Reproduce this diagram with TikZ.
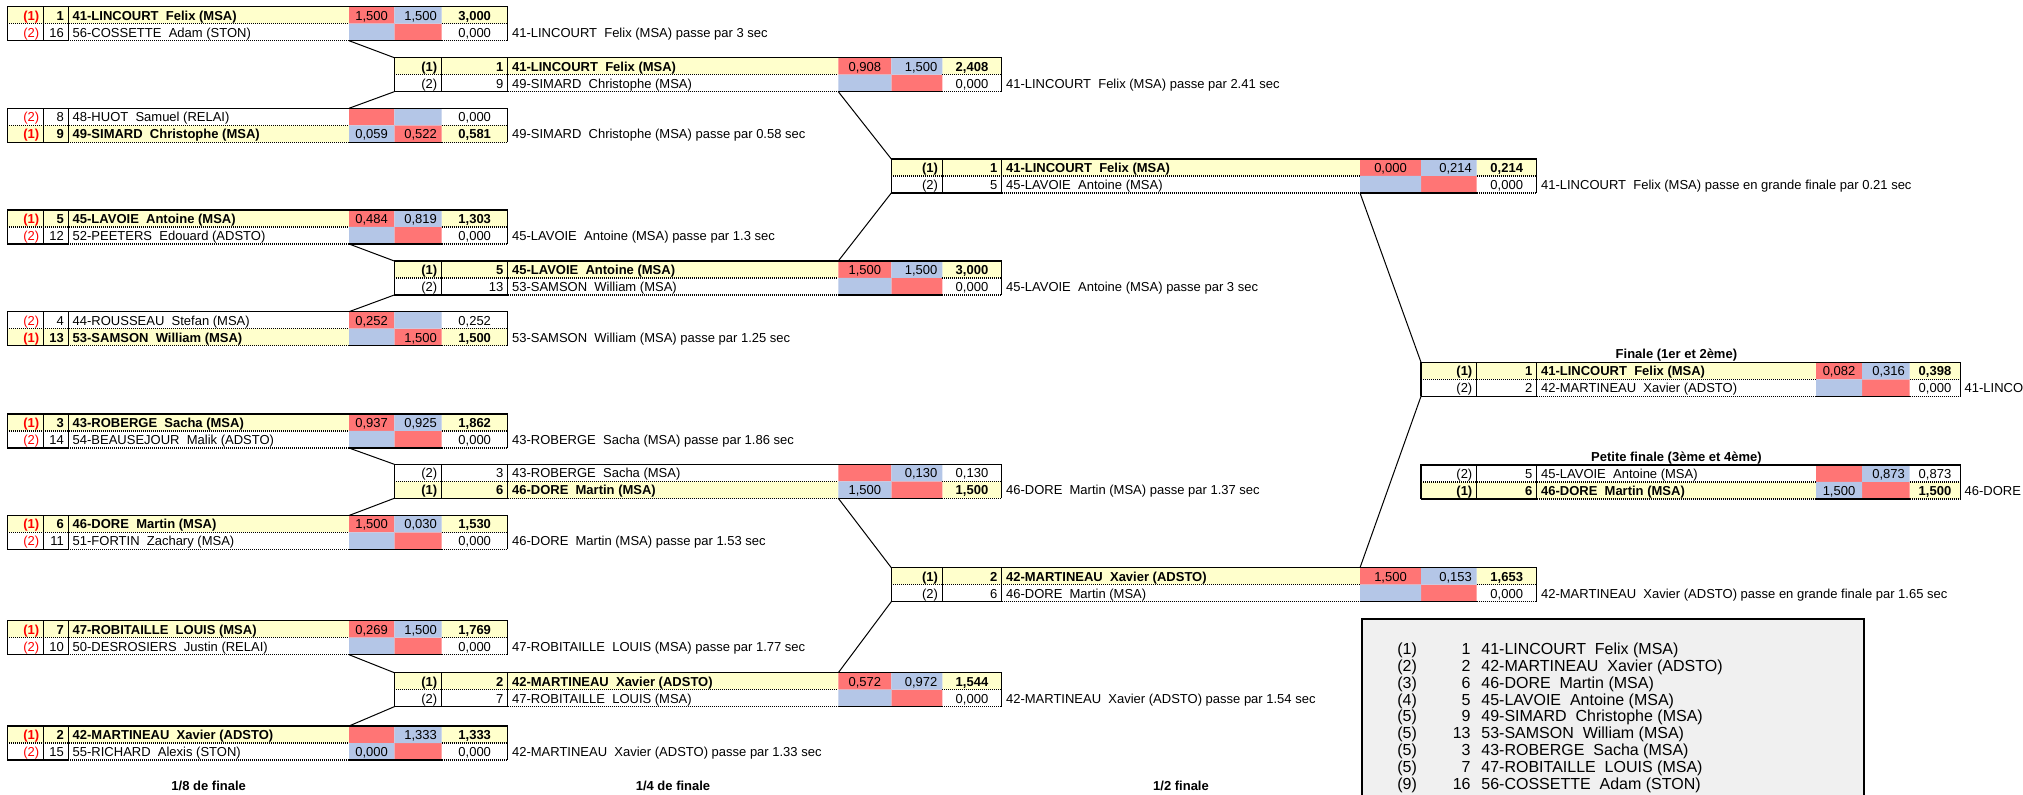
\documentclass[tikz,border=0pt]{standalone}
\usepackage{fontspec}
\setmainfont{Liberation Sans}
\usepackage{tikz}
\definecolor{cell_yellow}{RGB}{255, 255, 204}
\definecolor{cell_red}{RGB}{255, 117, 117}
\definecolor{cell_blue}{RGB}{180, 198, 231}
\definecolor{rank_gray}{RGB}{240, 240, 240}
\newcommand{\tabfont}{\fontsize{6.5}{7.8}\selectfont}
\tikzset{
  every node/.style={inner sep=0pt, font=\tabfont},
  winrow/.style={fill=cell_yellow},
  loserow/.style={fill=white},
  wintext/.style={font=\tabfont\bfseries},
  losetext/.style={font=\tabfont},
  rule/.style={line width=0.55pt},
  dots/.style={line width=0.6pt, dash pattern=on 0.5pt off 0.5pt},
  link/.style={line width=0.5pt},
  title/.style={font=\tabfont\bfseries, anchor=base},
  rank/.style={font=\fontsize{8}{9.6}\selectfont},
}
% one duel: two rows, columns \xa..\xg
\newcommand{\duel}{%
  \fill[\wA row] (\xa,\y) rectangle (\xd,\y+17) (\xf,\y) rectangle (\xg,\y+17);
  \fill[\wB row] (\xa,\y+17) rectangle (\xd,\y+34) (\xf,\y+17) rectangle (\xg,\y+34);
  \fill[cell_red] (\xd,\y) rectangle (\xe,\y+17) (\xe,\y+17) rectangle (\xf,\y+34);
  \fill[cell_blue] (\xe,\y) rectangle (\xf,\y+17) (\xd,\y+17) rectangle (\xe,\y+34);
  \draw[rule] (\xa,\y+34) -- (\xa,\y) -- (\xg,\y) -- (\xg,\y+34)
    (\xb,\y) -- (\xb,\y+34) (\xc,\y) -- (\xc,\y+34)
    (\xa,\y+34) -- (\xc,\y+34) (\xd,\y+34) -- (\xf,\y+34);
  \draw[dots] (\xa,\y+17) -- (\xd,\y+17) (\xf,\y+17) -- (\xg,\y+17)
    (\xc,\y+34) -- (\xd,\y+34) (\xf,\y+34) -- (\xg,\y+34);
  \coordinate (\n-nw) at (\xa,\y);
  \coordinate (\n-sw) at (\xa,\y+34);
  \coordinate (\n-up) at (\xd,\y);
  \coordinate (\n-dn) at (\xd,\y+34);
  \node[\wA text, text=\placecol, anchor=base east] (\n-pA) at (\xb-4,\y+13.5) {\pA};
  \node[\wA text, anchor=base east] (\n-kA) at (\xc-4,\y+13.5) {\kA};
  \node[\wA text, anchor=base west] (\n-mA) at (\xc+4,\y+13.5) {\mA};
  \node[anchor=base] (\n-uA) at ({(\xd+\xe)/2},\y+13.5) {\uA};
  \node[anchor=base east] (\n-vA) at (\xf-4.5,\y+13.5) {\vA};
  \node[\wA text, anchor=base] (\n-tA) at ({(\xf+\xg)/2},\y+13.5) {\tA};
  \node[\wB text, text=\placecol, anchor=base east] (\n-pB) at (\xb-4,\y+30.5) {\pB};
  \node[\wB text, anchor=base east] (\n-kB) at (\xc-4,\y+30.5) {\kB};
  \node[\wB text, anchor=base west] (\n-mB) at (\xc+4,\y+30.5) {\mB};
  \node[anchor=base] (\n-uB) at ({(\xd+\xe)/2},\y+30.5) {\uB};
  \node[anchor=base east] (\n-vB) at (\xf-4.5,\y+30.5) {\vB};
  \node[\wB text, anchor=base] (\n-tB) at ({(\xf+\xg)/2},\y+30.5) {\tB};
  \node[anchor=base west] (\n-txt) at (\xg+4,\y+30.5) {\txt};
}

\begin{document}
\begin{tikzpicture}[x=0.5pt, y=-0.5pt]
\useasboundingbox (0,0) rectangle (2023,795);

% 1/8 de finale
\def\xa{7.3}\def\xb{43.7}\def\xc{68.3}\def\xd{349}\def\xe{394.3}\def\xf{441.7}\def\xg{507.7}
\def\placecol{red}
\foreach \n/\y/\wA/\pA/\kA/\mA/\uA/\vA/\tA/\wB/\pB/\kB/\mB/\uB/\vB/\tB/\txt in {
  h1/6.7/win/{(1)}/1/41-LINCOURT~~Felix (MSA)/{1,500}/{1,500}/{3,000}/lose/{(2)}/16/56-COSSETTE~~Adam (STON)///{0,000}/41-LINCOURT~~Felix (MSA) passe par 3 sec,
  h2/108.3/lose/{(2)}/8/48-HUOT~~Samuel (RELAI)///{0,000}/win/{(1)}/9/49-SIMARD~~Christophe (MSA)/{0,059}/{0,522}/{0,581}/49-SIMARD~~Christophe (MSA) passe par 0.58 sec,
  h3/210/win/{(1)}/5/45-LAVOIE~~Antoine (MSA)/{0,484}/{0,819}/{1,303}/lose/{(2)}/12/52-PEETERS~~Edouard (ADSTO)///{0,000}/45-LAVOIE~~Antoine (MSA) passe par 1.3 sec,
  h4/311.7/lose/{(2)}/4/44-ROUSSEAU~~Stefan (MSA)/{0,252}//{0,252}/win/{(1)}/13/53-SAMSON~~William (MSA)//{1,500}/{1,500}/53-SAMSON~~William (MSA) passe par 1.25 sec,
  h5/414/win/{(1)}/3/43-ROBERGE~~Sacha (MSA)/{0,937}/{0,925}/{1,862}/lose/{(2)}/14/54-BEAUSEJOUR~~Malik (ADSTO)///{0,000}/43-ROBERGE~~Sacha (MSA) passe par 1.86 sec,
  h6/515.5/win/{(1)}/6/46-DORE~~Martin (MSA)/{1,500}/{0,030}/{1,530}/lose/{(2)}/11/51-FORTIN~~Zachary (MSA)///{0,000}/46-DORE~~Martin (MSA) passe par 1.53 sec,
  h7/620.7/win/{(1)}/7/47-ROBITAILLE~~LOUIS (MSA)/{0,269}/{1,500}/{1,769}/lose/{(2)}/10/50-DESROSIERS~~Justin (RELAI)///{0,000}/47-ROBITAILLE~~LOUIS (MSA) passe par 1.77 sec,
  h8/726/win/{(1)}/2/42-MARTINEAU~~Xavier (ADSTO)//{1,333}/{1,333}/lose/{(2)}/15/55-RICHARD~~Alexis (STON)/{0,000}//{0,000}/42-MARTINEAU~~Xavier (ADSTO) passe par 1.33 sec}
  {\duel}

% 1/4 de finale
\def\xa{394.3}\def\xb{441.7}\def\xc{507.7}\def\xd{838.3}\def\xe{891.3}\def\xf{942.3}\def\xg{1001.7}
\def\placecol{black}
\foreach \n/\y/\wA/\pA/\kA/\mA/\uA/\vA/\tA/\wB/\pB/\kB/\mB/\uB/\vB/\tB/\txt in {
  q1/57.7/win/{(1)}/1/41-LINCOURT~~Felix (MSA)/{0,908}/{1,500}/{2,408}/lose/{(2)}/9/49-SIMARD~~Christophe (MSA)///{0,000}/41-LINCOURT~~Felix (MSA) passe par 2.41 sec,
  q2/261/win/{(1)}/5/45-LAVOIE~~Antoine (MSA)/{1,500}/{1,500}/{3,000}/lose/{(2)}/13/53-SAMSON~~William (MSA)///{0,000}/45-LAVOIE~~Antoine (MSA) passe par 3 sec,
  q3/464.3/lose/{(2)}/3/43-ROBERGE~~Sacha (MSA)//{0,130}/{0,130}/win/{(1)}/6/46-DORE~~Martin (MSA)/{1,500}//{1,500}/46-DORE~~Martin (MSA) passe par 1.37 sec,
  q4/672.7/win/{(1)}/2/42-MARTINEAU~~Xavier (ADSTO)/{0,572}/{0,972}/{1,544}/lose/{(2)}/7/47-ROBITAILLE~~LOUIS (MSA)///{0,000}/42-MARTINEAU~~Xavier (ADSTO) passe par 1.54 sec}
  {\duel}

% 1/2 finale
\def\xa{891.3}\def\xb{942.3}\def\xc{1001.7}\def\xd{1360}\def\xe{1421}\def\xf{1476.7}\def\xg{1536.7}
\foreach \n/\y/\wA/\pA/\kA/\mA/\uA/\vA/\tA/\wB/\pB/\kB/\mB/\uB/\vB/\tB/\txt in {
  s1/159/win/{(1)}/1/41-LINCOURT~~Felix (MSA)/{0,000}/{0,214}/{0,214}/lose/{(2)}/5/45-LAVOIE~~Antoine (MSA)///{0,000}/41-LINCOURT~~Felix (MSA) passe en grande finale par 0.21 sec,
  s2/567.7/win/{(1)}/2/42-MARTINEAU~~Xavier (ADSTO)/{1,500}/{0,153}/{1,653}/lose/{(2)}/6/46-DORE~~Martin (MSA)///{0,000}/42-MARTINEAU~~Xavier (ADSTO) passe en grande finale par 1.65 sec}
  {\duel}

% finales
\def\xa{1421}\def\xb{1476.7}\def\xc{1536.7}\def\xd{1816}\def\xe{1862}\def\xf{1909.7}\def\xg{1960.2}
\foreach \n/\y/\wA/\pA/\kA/\mA/\uA/\vA/\tA/\wB/\pB/\kB/\mB/\uB/\vB/\tB/\txt in {
  gf/362.3/win/{(1)}/1/41-LINCOURT~~Felix (MSA)/{0,082}/{0,316}/{0,398}/lose/{(2)}/2/42-MARTINEAU~~Xavier (ADSTO)///{0,000}/41-LINCOURT~~Felix (MSA),
  pf/465/lose/{(2)}/5/45-LAVOIE~~Antoine (MSA)//{0,873}/{0,873}/win/{(1)}/6/46-DORE~~Martin (MSA)/{1,500}//{1,500}/46-DORE~~Martin (MSA)}
  {\duel}
\node[title] (gf-title) at (1676.4,358.8) {Finale (1er et 2ème)};
\node[title] (pf-title) at (1676.4,461.5) {Petite finale (3ème et 4ème)};

\foreach \from/\into/\back in {h1/q1/h2, h3/q2/h4, h5/q3/h6, h7/q4/h8, q1/s1/q2, q3/s2/q4, s1/gf/s2}
  \draw[link] (\from-dn) -- (\into-nw) (\into-sw) -- (\back-up);

\node[title] (r8) at (208.7,791) {1/8 de finale};
\node[title] (r4) at (673,791) {1/4 de finale};
\node[title] (r2) at (1181,791) {1/2 finale};

% classement
\filldraw[fill=rank_gray, line width=1pt] (1361.5,619) rectangle (1863.5,815);
\foreach \plc/\seed/\who [count=\i] in {{(1)}/1/41-LINCOURT~~Felix (MSA), {(2)}/2/42-MARTINEAU~~Xavier (ADSTO),
    {(3)}/6/46-DORE~~Martin (MSA), {(4)}/5/45-LAVOIE~~Antoine (MSA), {(5)}/9/49-SIMARD~~Christophe (MSA),
    {(5)}/13/53-SAMSON~~William (MSA), {(5)}/3/43-ROBERGE~~Sacha (MSA), {(5)}/7/47-ROBITAILLE~~LOUIS (MSA),
    {(9)}/16/56-COSSETTE~~Adam (STON)}{
  \node[rank, anchor=base west] (rk\i-p) at (1397,637.9+16.8*\i) {\plc};
  \node[rank, anchor=base east] (rk\i-s) at (1471,637.9+16.8*\i) {\seed};
  \node[rank, anchor=base west] (rk\i-n) at (1481,637.9+16.8*\i) {\who};
}

\end{tikzpicture}
\end{document}
